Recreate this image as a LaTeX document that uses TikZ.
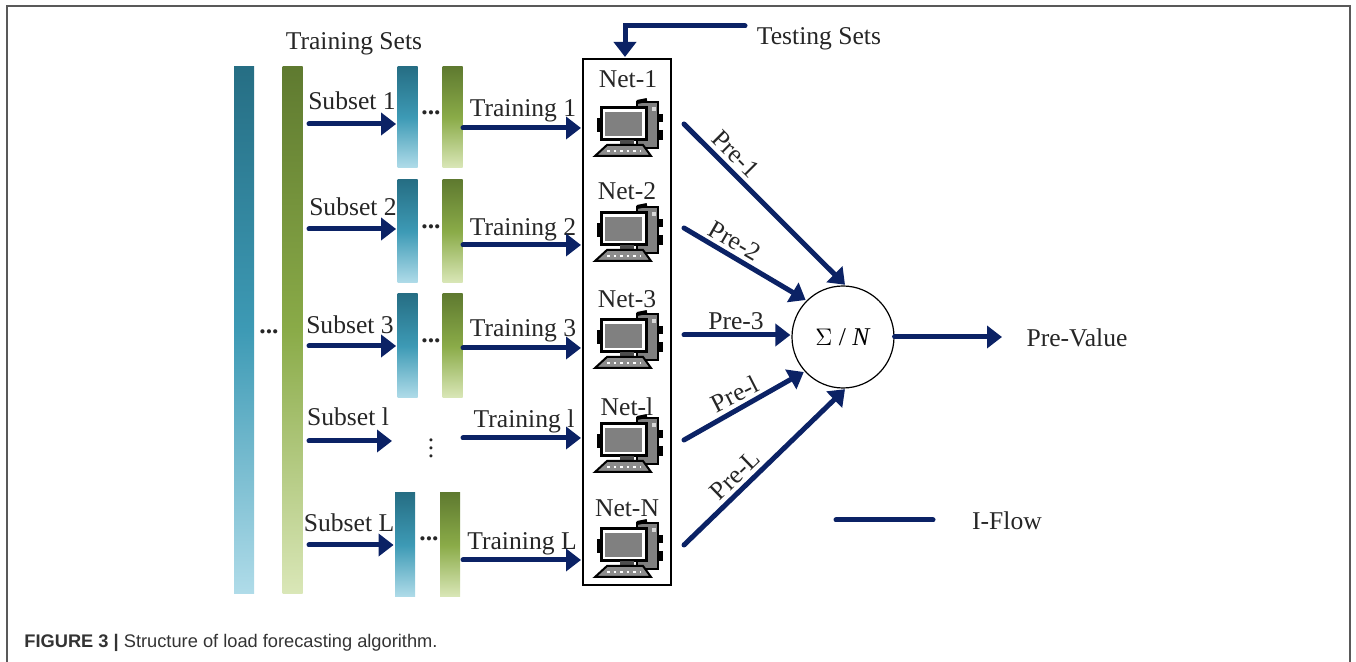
\documentclass[tikz,border=0pt]{standalone}
\usepackage{fontspec}
\setmainfont{Liberation Serif}
\newfontfamily\capfont{Liberation Sans}
\usetikzlibrary{arrows.meta,positioning}
\definecolor{flow}{HTML}{0B2265}
\definecolor{bluetop}{HTML}{266E84}
\definecolor{bluemid}{HTML}{3D9AB5}
\definecolor{bluelow}{HTML}{B0DCE9}
\definecolor{greentop}{HTML}{5F7A30}
\definecolor{greenmid}{HTML}{8AAB48}
\definecolor{greenlow}{HTML}{DAE7B8}
\tikzstyle{flowline}=[line width=2.5pt,draw=flow,line cap=round,-{Triangle[length=7.5pt,width=11pt]},shorten >=0.5pt]
\tikzstyle{label}=[font=\fontsize{12.8}{14}\selectfont,inner sep=0pt,text=black!85]
\tikzstyle{bluebar}=[rectangle,minimum width=10pt,inner sep=0pt,top color=bluetop,bottom color=bluelow,middle color=bluemid]
\tikzstyle{greenbar}=[rectangle,minimum width=10pt,inner sep=0pt,top color=greentop,bottom color=greenlow,middle color=greenmid]
\tikzset{computer/.pic={
    \draw[black,line width=1.2pt,fill=black!50] (10,-26) rectangle (31,20);
    \fill[black!15] (25,-21) rectangle (29,-17);
    \draw[black,line width=2.5pt] (33,-14) -- (33,-6) (33,2) -- (33,12);
    \draw[black,line width=2pt] (10,-26) -- (20,-28);
    \draw[black,line width=1.5pt,fill=white] (-26,-20) rectangle (19,12);
    \draw[black,line width=2.5pt] (-28,-10) -- (-28,4);
    \fill[black!50] (-22,-16) rectangle (15,8);
    \fill[black!70] (-7,12) rectangle (7,17);
    \draw[black,line width=1pt,fill=black!45] (-32,28) -- (-20,17) -- (16,17) -- (24,28) -- cycle;
    \draw[white,line width=1.3pt,dotted] (-20,23) -- (14,23);
}}
\begin{document}
\begin{tikzpicture}[x=0.5pt,y=-0.5pt]
    \useasboundingbox (0,0) rectangle (1356,662);
    \draw[black!65,line width=1pt] (7,662) -- (7,6) -- (1350,6) -- (1350,662);

    \node[label] (TS) at (354,44) {Training Sets};
    \node[bluebar,minimum height=263.5pt]  (A1) at (244,330.5) {};
    \node[greenbar,minimum height=263.5pt] (A2) at (292.5,330.5) {};
    \node[label] (Adots) at (269,332) {\textbf{...}};

    \node[bluebar,minimum height=50.5pt]  (B1) at (407.5,117.5) {};
    \node[greenbar,minimum height=50.5pt] (G1) at (452.5,117.5) {};
    \node[bluebar,minimum height=51.5pt]  (B2) at (407.5,231.5) {};
    \node[greenbar,minimum height=51.5pt] (G2) at (452.5,231.5) {};
    \node[bluebar,minimum height=52pt]    (B3) at (407.5,346) {};
    \node[greenbar,minimum height=52pt]   (G3) at (452.5,346) {};
    \node[bluebar,minimum height=52pt]    (B5) at (405,545) {};
    \node[greenbar,minimum height=52pt]   (G5) at (450,545) {};
    \node[label] (D1) at (431,113) {\textbf{...}};
    \node[label] (D2) at (431,227) {\textbf{...}};
    \node[label] (D3) at (431,341) {\textbf{...}};
    \node[label] (D4) at (431,442) {$\vdots$};
    \node[label] (D5) at (429,539) {\textbf{...}};

    \node[label] (S1) at (352,101) {Subset 1};
    \node[label] (S2) at (353,207) {Subset 2};
    \node[label] (S3) at (350,325) {Subset 3};
    \node[label] (S4) at (348,417) {Subset l};
    \node[label] (S5) at (349,523) {Subset L};
    \node[label] (T1) at (523,111) {Training 1};
    \node[label] (T2) at (523,230) {Training 2};
    \node[label] (T3) at (523,331) {Training 3};
    \node[label] (T4) at (524,421) {Training l};
    \node[label] (T5) at (522,544) {Training L};

    \node[rectangle,draw=black,line width=1pt,minimum width=44pt,minimum height=263pt,inner sep=0pt] (N) at (627,322) {};
    \node[label] (N1) at (628,79) {Net-1};
    \node[label] (N2) at (627,191) {Net-2};
    \node[label] (N3) at (627,299) {Net-3};
    \node[label] (N4) at (627,407) {Net-l};
    \node[label] (N5) at (627,508) {Net-N};
    \pic at (627,128) {computer};
    \pic at (627,233) {computer};
    \pic at (627,340) {computer};
    \pic at (627,444) {computer};
    \pic at (627,549) {computer};

    \node[circle,draw=black,line width=0.6pt,minimum size=51pt,inner sep=0pt,font=\fontsize{12.8}{14}\selectfont] (Sum) at (843,337) {$\Sigma$ / \textit{N}};
    \node[label] (Out) at (1077,338) {Pre-Value};
    \node[label] (Leg) at (1007,521) {I-Flow};
    \node[label] (TestS) at (819,39) {Testing Sets};

    \node[label,rotate=-45] (P1) at (736,154) {Pre-1};
    \node[label,rotate=-30] (P2) at (735,241) {Pre-2};
    \node[label] (P3) at (736,321) {Pre-3};
    \node[label,rotate=27] (P4) at (735,394) {Pre-l};
    \node[label,rotate=44] (P5) at (735,475) {Pre-L};

    \coordinate (a1) at (309,124);
    \coordinate (a2) at (309,229);
    \coordinate (a3) at (309,346);
    \coordinate (a4) at (309,441);
    \coordinate (a4e) at (393,441);
    \coordinate (a5) at (309,545);
    \coordinate (c1) at (463,128);
    \coordinate (c2) at (463,245);
    \coordinate (c3) at (463,348);
    \coordinate (c4) at (463,438);
    \coordinate (c5) at (463,560);
    \coordinate (e1) at (684,124);
    \coordinate (e2) at (684,228);
    \coordinate (e3) at (684,335);
    \coordinate (e4) at (684,440);
    \coordinate (e5) at (684,545);
    \coordinate (v) at (745,26);
    \coordinate (k) at (625,26);
    \coordinate (o) at (1003,337);
    \coordinate (l1) at (836,520);
    \coordinate (l2) at (933,520);

    \draw[flowline] (a1) -- (a1 -| B1.west);
    \draw[flowline] (a2) -- (a2 -| B2.west);
    \draw[flowline] (a3) -- (a3 -| B3.west);
    \draw[flowline] (a4) -- (a4e);
    \draw[flowline] (a5) -- (a5 -| B5.west);
    \draw[flowline] (c1) -- (c1 -| N.west);
    \draw[flowline] (c2) -- (c2 -| N.west);
    \draw[flowline] (c3) -- (c3 -| N.west);
    \draw[flowline] (c4) -- (c4 -| N.west);
    \draw[flowline] (c5) -- (c5 -| N.west);
    \draw[flowline] (v) -- (k) -- (k |- N.north);
    \draw[flowline] (e1) -- (Sum.87);
    \draw[flowline] (e2) -- (Sum.135);
    \draw[flowline] (e3) -- (e3 -| Sum.west);
    \draw[flowline] (e4) -- (Sum.222);
    \draw[flowline] (e5) -- (Sum.273);
    \draw[flowline] (Sum.east) -- (o);
    \draw[line width=2.5pt,draw=flow,line cap=round] (l1) -- (l2);

    \node[anchor=west,inner sep=0pt,font=\capfont\fontsize{9.13}{11}\selectfont,text=black!80] (Cap) at (24,643) {\textbf{FIGURE 3 |} Structure of load forecasting algorithm.};
\end{tikzpicture}
\end{document}
